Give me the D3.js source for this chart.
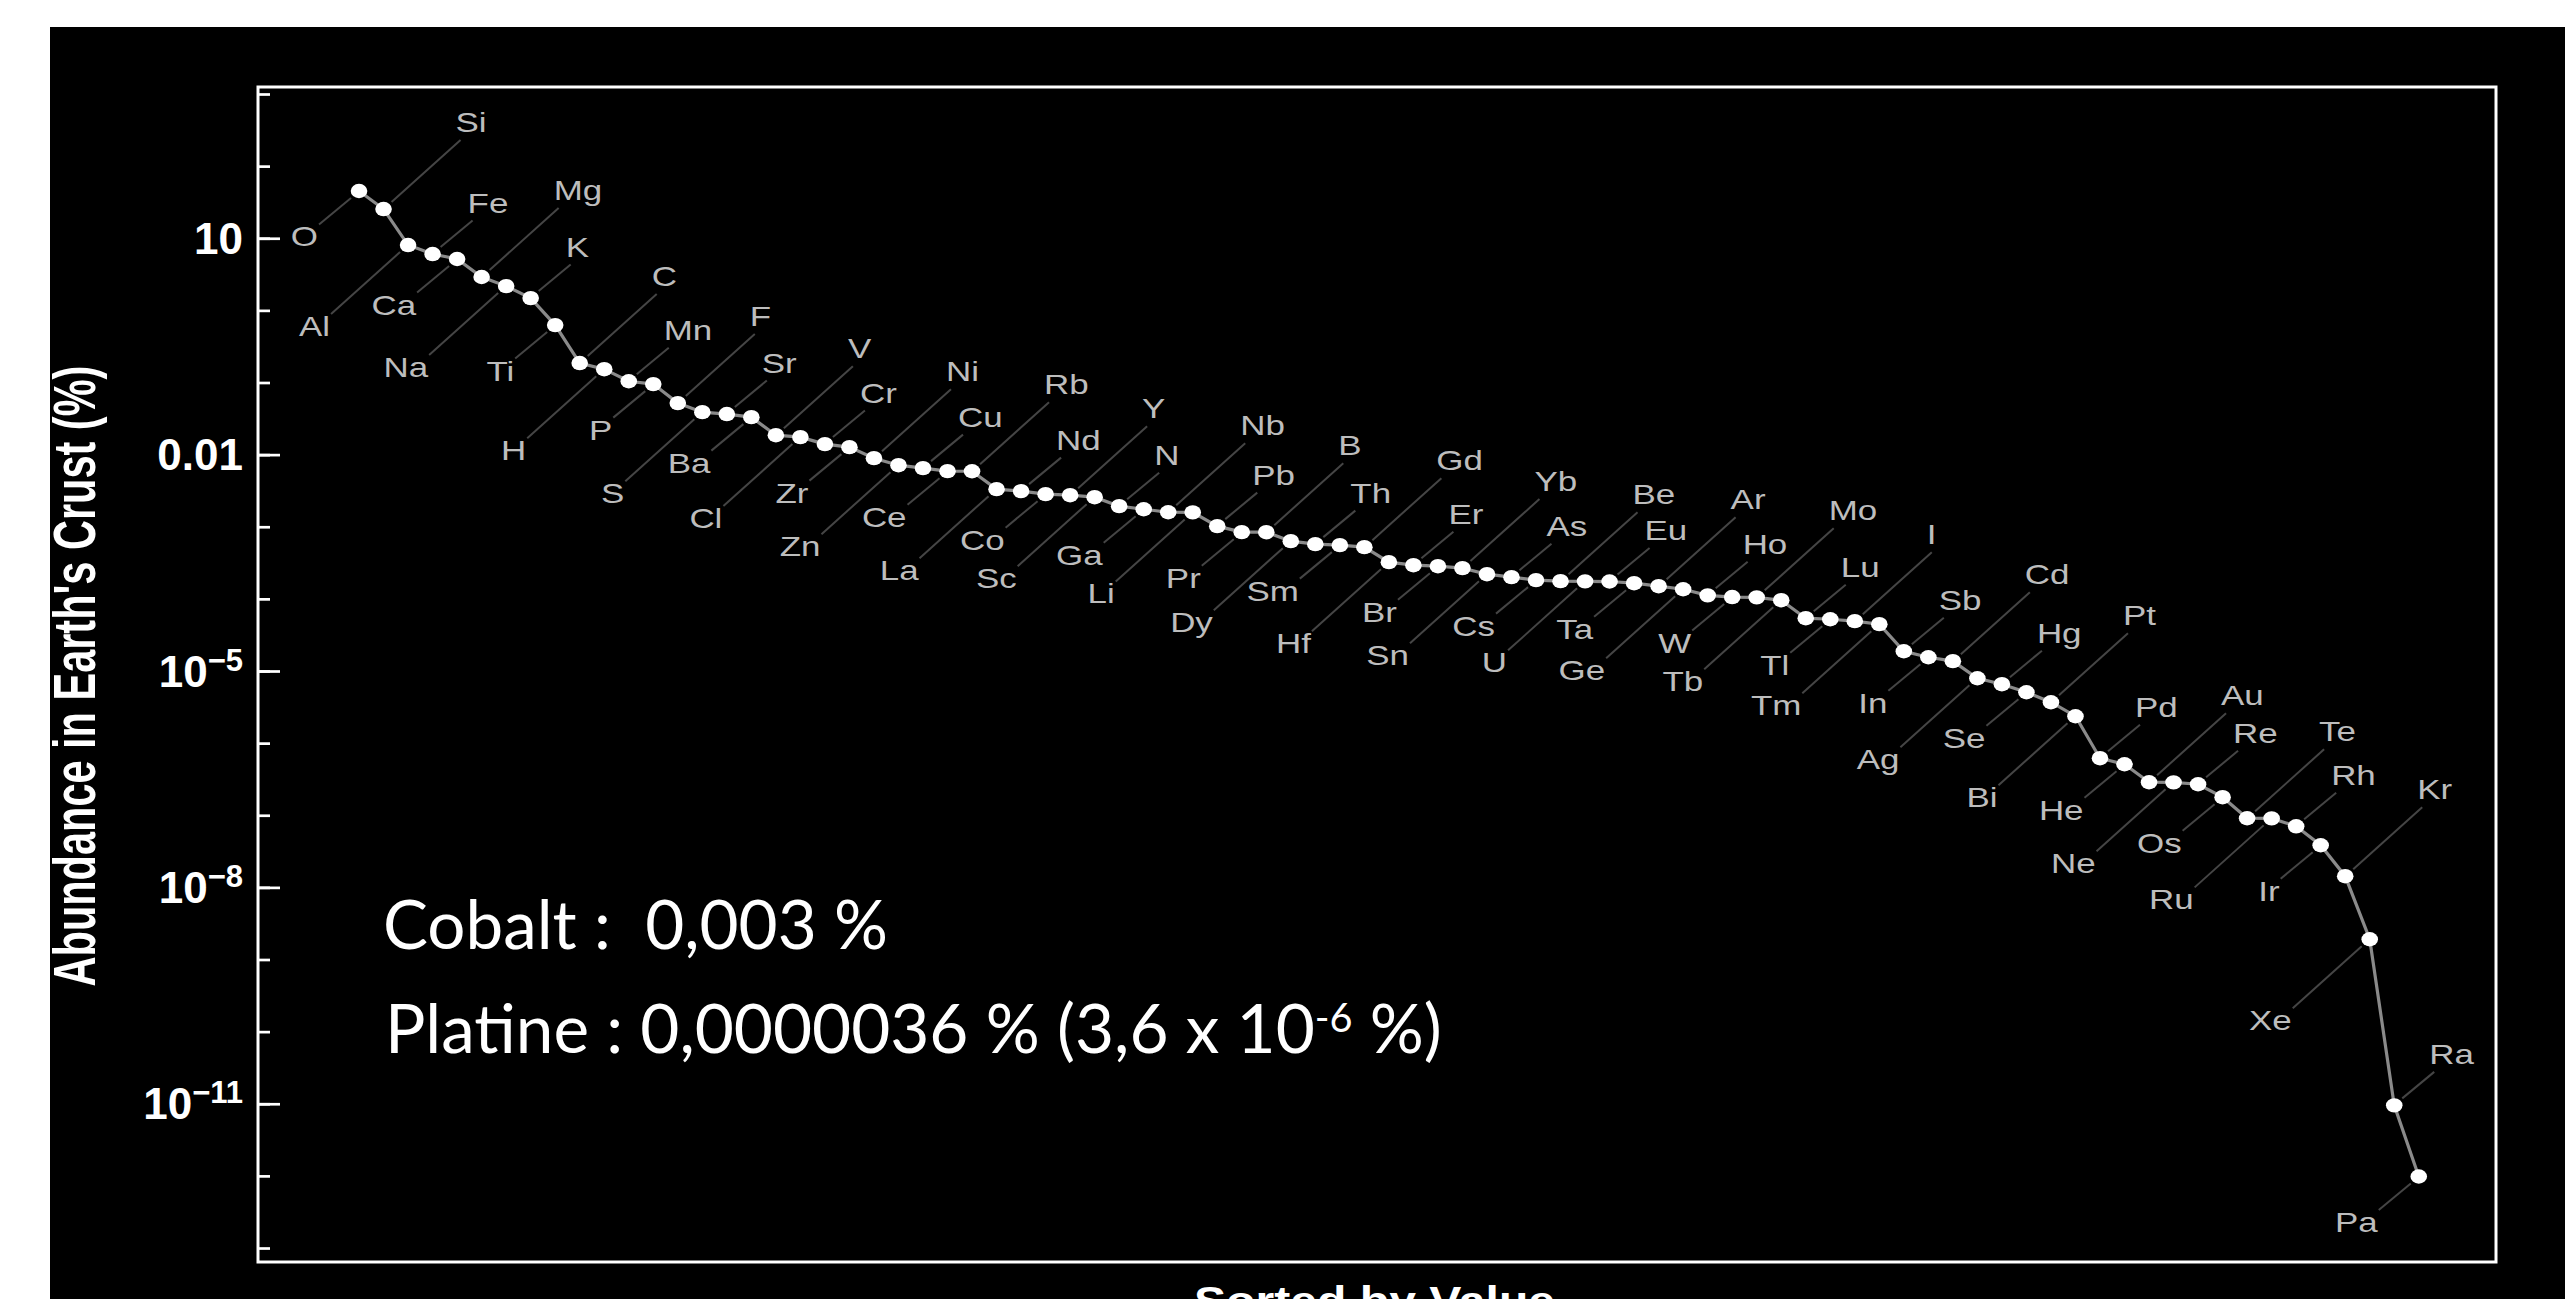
<!DOCTYPE html>
<html>
<head>
<meta charset="utf-8">
<script src="https://cdn.jsdelivr.net/npm/d3@7"></script>
<style>
  html, body { margin: 0; padding: 0; background: #fff; }
  svg { display: block; }
</style>
</head>
<body>
<div id="chart"></div>
<script>
// elements, sorted by abundance (as in the picture)
var elements = ["O", "Si", "Al", "Fe", "Ca", "Mg", "Na", "K", "Ti", "C",
  "H", "Mn", "P", "F", "S", "Sr", "Ba", "V", "Cl", "Cr",
  "Zr", "Ni", "Zn", "Cu", "Ce", "Rb", "La", "Nd", "Co", "Y",
  "Sc", "N", "Ga", "Nb", "Li", "Pb", "Pr", "B", "Dy", "Th",
  "Sm", "Gd", "Hf", "Er", "Br", "Yb", "Sn", "As", "Cs", "Be",
  "U", "Eu", "Ta", "Ar", "Ge", "Ho", "W", "Mo", "Tb", "Lu",
  "Tl", "I", "Tm", "Sb", "In", "Cd", "Ag", "Hg", "Se", "Pt",
  "Bi", "Pd", "He", "Au", "Ne", "Re", "Os", "Te", "Ru", "Rh",
  "Ir", "Kr", "Xe", "Ra", "Pa"];

// abundance in earth's crust (%)
var abundance = [45.2, 25.4, 8.05, 6.04, 5.15, 2.90, 2.17, 1.48, 0.625, 0.186,
  0.153, 0.104, 0.095, 0.0518, 0.0388, 0.0365, 0.0331, 0.0186, 0.0175, 0.0140,
  0.0127, 0.00893, 0.00714, 0.00650, 0.00590, 0.00588, 0.00332, 0.00312, 0.00283, 0.00274,
  0.00257, 0.00193, 0.00175, 0.00159, 0.00158, 0.00102, 8.41e-4, 8.40e-4, 6.31e-4, 5.74e-4,
  5.56e-4, 5.21e-4, 3.23e-4, 2.93e-4, 2.84e-4, 2.67e-4, 2.20e-4, 2.00e-4, 1.82e-4, 1.76e-4,
  1.75e-4, 1.74e-4, 1.65e-4, 1.50e-4, 1.36e-4, 1.12e-4, 1.06e-4, 1.05e-4, 9.59e-5, 5.40e-5,
  5.22e-5, 4.91e-5, 4.46e-5, 1.88e-5, 1.55e-5, 1.37e-5, 7.94e-6, 6.56e-6, 5.08e-6, 3.69e-6,
  2.36e-6, 6.18e-7, 5.09e-7, 2.87e-7, 2.86e-7, 2.69e-7, 1.78e-7, 9.08e-8, 9.05e-8, 7.03e-8,
  3.84e-8, 1.43e-8, 1.91e-9, 9.5e-12, 9.8e-13];

// y axis ticks
var majorTicks = [10, 0.01, 1e-5, 1e-8, 1e-11];
var tickBase = ["10", "0.01", "10", "10", "10"];
var tickExp = ["", "", "\u22125", "\u22128", "\u221211"];
var minorTicks = d3.range(3, -14, -1).map(function (e) { return Math.pow(10, e); });

var xTitle = "Sorted by Value";
var yTitle = "Abundance in Earth's Crust (%)";

var W = 2565, H = 1299;
var frame = { left: 258, right: 2496, top: 87, bottom: 1262 };

var svg = d3.select("#chart").append("svg")
  .attr("width", W)
  .attr("height", H);

svg.append("rect").attr("width", W).attr("height", H).attr("fill", "#fff");
svg.append("rect")
  .attr("x", 50).attr("y", 27)
  .attr("width", W - 50).attr("height", H - 27)
  .attr("fill", "#000");

var x = d3.scaleLinear()
  .domain([-4.12, 87.15])
  .range([frame.left, frame.right]);

var y = d3.scaleLog()
  .domain([Math.pow(10, -13.194), Math.pow(10, 3.097)])
  .range([frame.bottom, frame.top]);

// ticks, pointing into the plot
var minorAxis = svg.append("g")
  .attr("transform", "translate(" + frame.left + ",0)")
  .call(d3.axisRight(y).tickValues(minorTicks).tickSize(12).tickFormat(""));
var majorAxis = svg.append("g")
  .attr("transform", "translate(" + frame.left + ",0)")
  .call(d3.axisRight(y).tickValues(majorTicks).tickSize(22).tickFormat(""));
svg.selectAll(".domain").remove();
svg.selectAll(".tick line").attr("stroke", "#fff").attr("stroke-width", 2.7);

// tick labels
var tl = svg.append("g")
  .attr("font-family", "'Liberation Sans', Arial, sans-serif")
  .attr("font-weight", "bold")
  .attr("fill", "#fff");
majorTicks.forEach(function (v, i) {
  var t = tl.append("text")
    .attr("x", 243)
    .attr("y", y(v) + 15.5)
    .attr("text-anchor", "end")
    .attr("font-size", 44);
  t.append("tspan").text(tickBase[i]);
  if (tickExp[i]) {
    t.append("tspan").attr("font-size", 31).attr("dy", -16).text(tickExp[i]);
  }
});

// axis titles
svg.append("text")
  .attr("transform", "translate(95,676) rotate(-90) scale(1,1.42)")
  .attr("text-anchor", "middle")
  .attr("font-family", "'Liberation Sans', Arial, sans-serif")
  .attr("font-weight", "bold")
  .attr("font-size", 41.5)
  .attr("fill", "#fff")
  .text(yTitle);

svg.append("text")
  .attr("transform", "translate(1374.5,1314.7) scale(1.16,1)")
  .attr("text-anchor", "middle")
  .attr("font-family", "'Liberation Sans', Arial, sans-serif")
  .attr("font-weight", "bold")
  .attr("font-size", 41.5)
  .attr("fill", "#fff")
  .text(xTitle);

// leader lines + element labels
var pts = abundance.map(function (v, i) {
  var up = i % 2 === 1;
  var far = (i % 4 === 1 || i % 4 === 2);
  return { name: elements[i], v: v, px: x(i), py: y(v), up: up, ex: far ? 77 : 40, ey: far ? 69 : 33.5 };
});

svg.append("g").selectAll("line").data(pts).enter().append("line")
  .attr("x1", function (d) { return d.px + (d.up ? 8 : -8); })
  .attr("y1", function (d) { return d.py + (d.up ? -7 : 7); })
  .attr("x2", function (d) { return d.px + (d.up ? d.ex : -d.ex); })
  .attr("y2", function (d) { return d.py + (d.up ? -d.ey : d.ey); })
  .attr("stroke", "#454545")
  .attr("stroke-width", 2);

svg.append("g").selectAll("text").data(pts).enter().append("text")
  .attr("transform", function (d) {
    var tx = d.up ? d.px + d.ex - 5 : d.px - d.ex - 1;
    var ty = d.up ? d.py - d.ey - 8 : d.py + d.ey + 22;
    return "translate(" + tx + "," + ty + ") scale(1.27,1)";
  })
  .attr("text-anchor", function (d) { return d.up ? "start" : "end"; })
  .attr("font-family", "'Liberation Sans', Arial, sans-serif")
  .attr("font-size", 27.5)
  .attr("fill", "#bdbdbd")
  .text(function (d) { return d.name; });

// frame
svg.append("rect")
  .attr("x", frame.left).attr("y", frame.top)
  .attr("width", frame.right - frame.left)
  .attr("height", frame.bottom - frame.top)
  .attr("fill", "none")
  .attr("stroke", "#fff")
  .attr("stroke-width", 3);

// data line and dots
var line = d3.line()
  .x(function (d, i) { return x(i); })
  .y(function (d) { return y(d); });

svg.append("path")
  .datum(abundance)
  .attr("d", line)
  .attr("fill", "none")
  .attr("stroke", "#8a8a8a")
  .attr("stroke-width", 3.2);

svg.append("g").selectAll("ellipse").data(abundance).enter().append("ellipse")
  .attr("cx", function (d, i) { return x(i); })
  .attr("cy", function (d) { return y(d); })
  .attr("rx", 8.3)
  .attr("ry", 7.2)
  .attr("fill", "#fff");

// annotation text (slide overlay)
function fitText(t, x0, y0, width) {
  var w = t.node().getBBox().width;
  t.attr("transform", "translate(" + x0 + "," + y0 + ") scale(" + (width / w) + ",1)");
}

var note1 = svg.append("text")
  .attr("font-family", "Lato, 'Open Sans', sans-serif")
  .attr("font-size", 68)
  .attr("fill", "#fff")
  .style("white-space", "pre")
  .text("Cobalt :  0,003 %");
fitText(note1, 383, 949, 505);

var note2 = svg.append("text")
  .attr("font-family", "Lato, 'Open Sans', sans-serif")
  .attr("font-size", 68)
  .attr("fill", "#fff")
  .style("white-space", "pre");
note2.append("tspan").text("Platine : 0,0000036 % (3,6 x 10");
note2.append("tspan").attr("font-size", 40).attr("dy", -21).text("-6");
note2.append("tspan").attr("dy", 21).text(" %)");
fitText(note2, 385, 1053, 1057);
</script>
</body>
</html>
